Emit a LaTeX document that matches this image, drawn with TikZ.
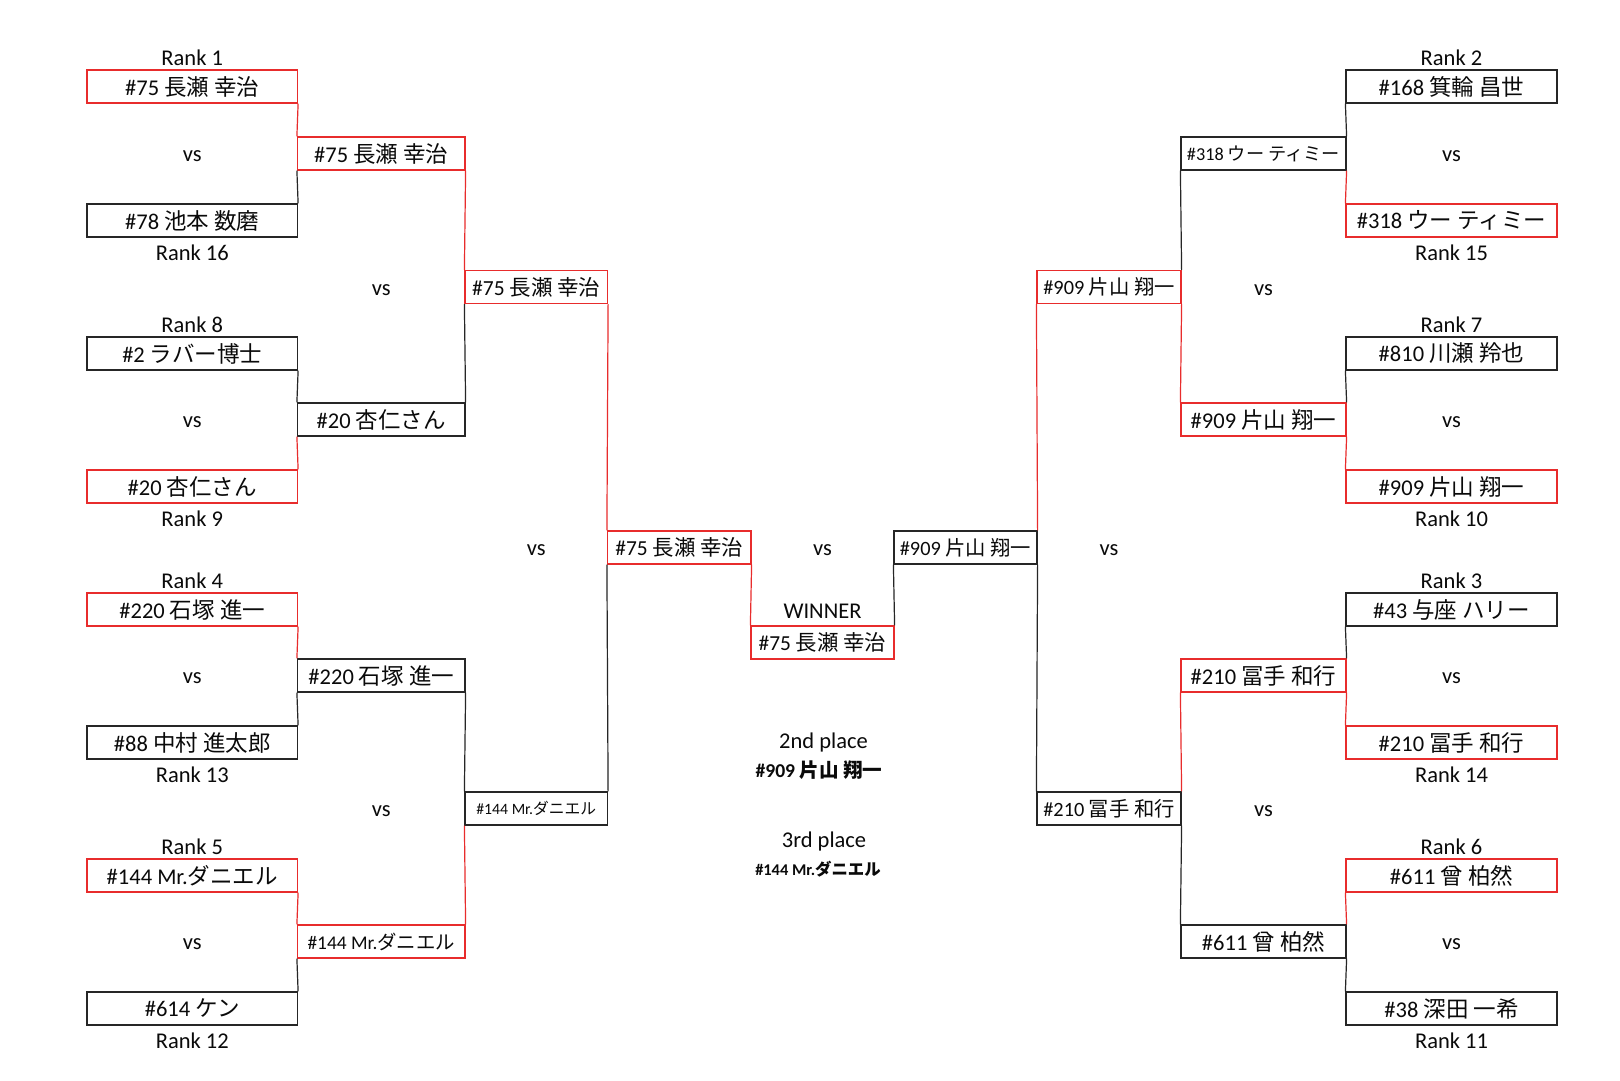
\documentclass[tikz,border=0pt]{standalone}
\usepackage{fontspec}
\setmainfont{Carlito}
\newfontfamily\cjk{Noto Sans CJK JP}
\newcommand{\jp}[1]{{\cjk #1}}
\definecolor{wred}{RGB}{232,44,44}
\definecolor{lgray}{RGB}{38,38,38}
\definecolor{txt}{RGB}{10,10,10}
\tikzset{
  fsz/.style={font=\fontsize{#1}{#1}\selectfont},
  pbox/.style={draw, minimum height=33pt, inner sep=0pt, line width=1.2pt, text=txt, fsz=22.5},
  win/.style={pbox, draw=wred},
  lose/.style={pbox, draw=lgray},
  wline/.style={draw=wred, line width=1.2pt},
  lline/.style={draw=lgray, line width=1.2pt},
  lbl/.style={inner sep=0pt, text=txt, fsz=22.5},
  colA/.style={minimum width=210.5pt},
  colB/.style={minimum width=167.5pt},
  colC/.style={minimum width=142.5pt},
  colD/.style={minimum width=143.5pt},
  colE/.style={minimum width=143pt},
  colF/.style={minimum width=143pt},
  colG/.style={minimum width=144pt},
  colH/.style={minimum width=165pt},
  colI/.style={minimum width=211pt},
}
\begin{document}
\begin{tikzpicture}[x=1pt, y=-1pt]
\useasboundingbox (0,0) rectangle (1620,1080);
\fill[white] (0,0) rectangle (1620,1080);

% ---------- losing (black) boxes ----------
\node[lose, colA] (a2) at (192.25,220.5) {\#78 \jp{池本 数磨}};
\node[lose, colA] (a3) at (192.25,353.5) {\#2 \jp{ラバー博士}};
\node[lose, colA] (a6) at (192.25,742.5) {\#88 \jp{中村 進太郎}};
\node[lose, colA] (a8) at (192.25,1008.5) {\#614 \jp{ケン}};
\node[lose, colB] (b2) at (381.25,419.5) {\#20 \jp{杏仁さん}};
\node[lose, colB] (b3) at (381.25,675.5) {\#220 \jp{石塚 進一}};
\node[lose, colC, fsz=15.75] (c2) at (536.25,808.5) {\#144 Mr.\jp{ダニエル}};
\node[lose, colF, fsz=20.3] (f1) at (965.5,547.5) {\#909 \jp{片山 翔一}};
\node[lose, colG, fsz=20.3] (g2) at (1109,808.5) {\#210 \jp{冨手 和行}};
\node[lose, colH, fsz=18.2] (h1) at (1263.5,153.5) {\#318 \jp{ウー ティミー}};
\node[lose, colH] (h4) at (1263.5,941.5) {\#611 \jp{曾 柏然}};
\node[lose, colI] (i1) at (1451.5,86.5) {\#168 \jp{箕輪 昌世}};
\node[lose, colI] (i3) at (1451.5,353.5) {\#810 \jp{川瀬 羚也}};
\node[lose, colI] (i5) at (1451.5,609.5) {\#43 \jp{与座 ハリー}};
\node[lose, colI] (i8) at (1451.5,1008.5) {\#38 \jp{深田 一希}};

% ---------- winning (red) boxes ----------
\node[win, colA] (a1) at (192.25,86.5) {\#75 \jp{長瀬 幸治}};
\node[win, colA] (a4) at (192.25,486.5) {\#20 \jp{杏仁さん}};
\node[win, colA] (a5) at (192.25,609.5) {\#220 \jp{石塚 進一}};
\node[win, colA] (a7) at (192.25,875.5) {\#144 Mr.\jp{ダニエル}};
\node[win, colB] (b1) at (381.25,153.5) {\#75 \jp{長瀬 幸治}};
\node[win, colB, fsz=19.4] (b4) at (381.25,941.5) {\#144 Mr.\jp{ダニエル}};
\node[win, colC, fsz=21.5] (c1) at (536.25,287) {\#75 \jp{長瀬 幸治}};
\node[win, colD, fsz=21.4] (d1) at (679.25,547.5) {\#75 \jp{長瀬 幸治}};
\node[win, colE, fsz=21.4] (e1) at (822.5,642.5) {\#75 \jp{長瀬 幸治}};
\node[win, colG, fsz=20.3] (g1) at (1109,287) {\#909 \jp{片山 翔一}};
\node[win, colH] (h2) at (1263.5,419.5) {\#909 \jp{片山 翔一}};
\node[win, colH] (h3) at (1263.5,675.5) {\#210 \jp{冨手 和行}};
\node[win, colI] (i2) at (1451.5,220.5) {\#318 \jp{ウー ティミー}};
\node[win, colI] (i4) at (1451.5,486.5) {\#909 \jp{片山 翔一}};
\node[win, colI] (i6) at (1451.5,742.5) {\#210 \jp{冨手 和行}};
\node[win, colI] (i7) at (1451.5,875.5) {\#611 \jp{曾 柏然}};

% ---------- losing connectors ----------
\draw[lline] (b1.south west) -- (a2.north east);
\draw[lline] (a3.south east) -- (b2.north west);
\draw[lline] (b3.south west) -- (a6.north east);
\draw[lline] (b4.south west) -- (a8.north east);
\draw[lline] (c1.south west) -- (b2.north east);
\draw[lline] (b3.south east) -- (c2.north west);
\draw[lline] (d1.south west) -- (c2.north east);
\draw[lline] (f1.south west) -- (e1.north east);
\draw[lline] (f1.south east) -- (g2.north west);
\draw[lline] (h1.south west) -- (g1.north east);
\draw[lline] (g2.south east) -- (h4.north west);
\draw[lline] (i1.south west) -- (h1.north east);
\draw[lline] (i3.south west) -- (h2.north east);
\draw[lline] (i5.south west) -- (h3.north east);
\draw[lline] (h4.south east) -- (i8.north west);

% ---------- winning connectors ----------
\draw[wline] (a1.south east) -- (b1.north west);
\draw[wline] (b2.south west) -- (a4.north east);
\draw[wline] (a5.south east) -- (b3.north west);
\draw[wline] (a7.south east) -- (b4.north west);
\draw[wline] (b1.south east) -- (c1.north west);
\draw[wline] (c2.south west) -- (b4.north east);
\draw[wline] (c1.south east) -- (d1.north west);
\draw[wline] (d1.south east) -- (e1.north west);
\draw[wline] (g1.south west) -- (f1.north east);
\draw[wline] (g1.south east) -- (h2.north west);
\draw[wline] (h3.south west) -- (g2.north east);
\draw[wline] (h1.south east) -- (i2.north west);
\draw[wline] (h2.south east) -- (i4.north west);
\draw[wline] (h3.south east) -- (i6.north west);
\draw[wline] (i7.south west) -- (h4.north east);

% ---------- rank labels ----------
\node[lbl] (rk1) at (192.25,58) {Rank 1};
\node[lbl] (rk16) at (192.25,253) {Rank 16};
\node[lbl] (rk8) at (192.25,325) {Rank 8};
\node[lbl] (rk9) at (192.25,519) {Rank 9};
\node[lbl] (rk4) at (192.25,581) {Rank 4};
\node[lbl] (rk13) at (192.25,775) {Rank 13};
\node[lbl] (rk5) at (192.25,847) {Rank 5};
\node[lbl] (rk12) at (192.25,1041) {Rank 12};
\node[lbl] (rk2) at (1451.5,58) {Rank 2};
\node[lbl] (rk15) at (1451.5,253) {Rank 15};
\node[lbl] (rk7) at (1451.5,325) {Rank 7};
\node[lbl] (rk10) at (1451.5,519) {Rank 10};
\node[lbl] (rk3) at (1451.5,581) {Rank 3};
\node[lbl] (rk14) at (1451.5,775) {Rank 14};
\node[lbl] (rk6) at (1451.5,847) {Rank 6};
\node[lbl] (rk11) at (1451.5,1041) {Rank 11};

% ---------- vs labels ----------
\node[lbl] (vsA1) at (192.25,156.5) {vs};
\node[lbl] (vsA2) at (192.25,422.5) {vs};
\node[lbl] (vsA3) at (192.25,678.5) {vs};
\node[lbl] (vsA4) at (192.25,944.5) {vs};
\node[lbl] (vsB1) at (381.25,290) {vs};
\node[lbl] (vsB2) at (381.25,811.5) {vs};
\node[lbl] (vsC) at (536.25,550.5) {vs};
\node[lbl] (vsE) at (822.5,550.5) {vs};
\node[lbl] (vsG) at (1109,550.5) {vs};
\node[lbl] (vsH1) at (1263.5,290) {vs};
\node[lbl] (vsH2) at (1263.5,811.5) {vs};
\node[lbl] (vsI1) at (1451.5,156.5) {vs};
\node[lbl] (vsI2) at (1451.5,422.5) {vs};
\node[lbl] (vsI3) at (1451.5,678.5) {vs};
\node[lbl] (vsI4) at (1451.5,944.5) {vs};

% ---------- centre texts ----------
\node[lbl] (winner) at (822.5,611) {WINNER};
\node[lbl] (second) at (823.5,742) {2nd place};
\node[lbl, fsz=19.6] (secondn) at (819,770) {\bfseries\#909 \jp{\bfseries 片山 翔一}};
\node[lbl] (third) at (824,841) {3rd place};
\node[lbl, fsz=16.4] (thirdn) at (818,869) {\bfseries\#144 Mr.\jp{\bfseries ダニエル}};
\end{tikzpicture}
\end{document}
